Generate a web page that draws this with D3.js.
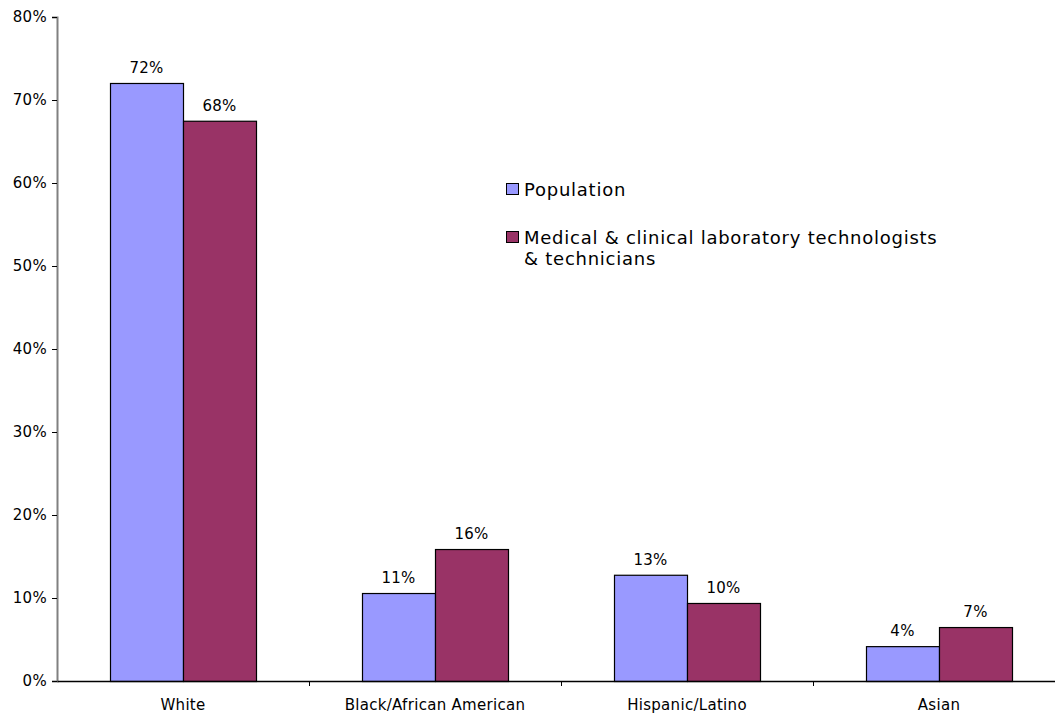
<!DOCTYPE html>
<html><head><meta charset="utf-8">
<script src="https://cdn.jsdelivr.net/npm/d3@7"></script>
<style>body{margin:0;background:#fff}svg{display:block}text{font-family:"DejaVu Sans",Verdana,sans-serif}</style>
</head><body><svg id="c" width="1055" height="715"></svg>
<script>
const categories = ["White","Black/African American","Hispanic/Latino","Asian"];
const seriesNames = ["Population","Medical & clinical laboratory technologists & technicians"];
const population = [72.05, 10.6, 12.8, 4.2];
const medical = [67.5, 15.9, 9.4, 6.5];
const popLabels = ["72%","11%","13%","4%"];
const medLabels = ["68%","16%","10%","7%"];
const yTicks = [0,10,20,30,40,50,60,70,80];
const colors = ["#9999FF","#993366"];

const svg = d3.select("#c");
const x0 = d3.scaleBand().domain(categories).range([57,1065]).paddingInner(0).paddingOuter(0);
const x1 = d3.scaleBand().domain([0,1]).range([53,199]);
const y = d3.scaleLinear().domain([0,80]).range([681,17]);

// y axis
const ya = svg.append("g").attr("transform","translate(57,0)")
  .call(d3.axisLeft(y).tickValues(yTicks).tickFormat(d=>d+"%").tickSize(5).tickPadding(5));
ya.select(".domain").attr("stroke","#808080").attr("stroke-width",2);
ya.selectAll(".tick line").attr("stroke","#000");
ya.selectAll("text").attr("font-size",15).attr("letter-spacing",0.3).attr("fill","#000").attr("font-family","DejaVu Sans");

const series = [population, medical];
const labels = [popLabels, medLabels];
series.forEach((vals,s)=>{
  svg.append("g").selectAll("rect").data(vals).join("rect")
    .attr("x",(d,i)=>x0(categories[i])+x1(s)+0.5)
    .attr("y",d=>y(d)+0.5)
    .attr("width",x1.bandwidth())
    .attr("height",d=>y(0)-y(d))
    .attr("fill",colors[s]).attr("stroke","#000").attr("stroke-width",1.2);
  svg.append("g").selectAll("text").data(vals).join("text")
    .attr("x",(d,i)=>x0(categories[i])+x1(s)+x1.bandwidth()/2)
    .attr("y",d=>y(d)-10)
    .attr("text-anchor","middle").attr("font-size",15).attr("letter-spacing",0.3).attr("fill","#000")
    .text((d,i)=>labels[s][i]);
});

// x axis
const xa = svg.append("g").attr("transform","translate(0,681)")
  .call(d3.axisBottom(x0).tickSize(0).tickPadding(18));
xa.select(".domain").attr("stroke","#000").attr("stroke-width",1.5);
xa.selectAll("text").attr("font-size",15).attr("letter-spacing",0.3).attr("fill","#000").attr("font-family","DejaVu Sans");
svg.append("g").selectAll("line").data(categories.slice(1)).join("line")
  .attr("x1",d=>Math.round(x0(d))+0.5).attr("x2",d=>Math.round(x0(d))+0.5)
  .attr("y1",681).attr("y2",686).attr("stroke","#000");

// legend
const lg = svg.append("g");
const legRows = [[196],[244,265]];
const legLines = [["Population"],["Medical & clinical laboratory technologists","& technicians"]];
seriesNames.forEach((n,i)=>{
  lg.append("rect").attr("x",506.5).attr("y",legRows[i][0]-12.5).attr("width",12).attr("height",11)
    .attr("fill",colors[i]).attr("stroke","#000");
  legLines[i].forEach((t,j)=>{
    lg.append("text").attr("x",524).attr("y",legRows[i][j]).attr("font-size",18).attr("letter-spacing",0.75).attr("fill","#000").text(t);
  });
});
</script></body></html>
